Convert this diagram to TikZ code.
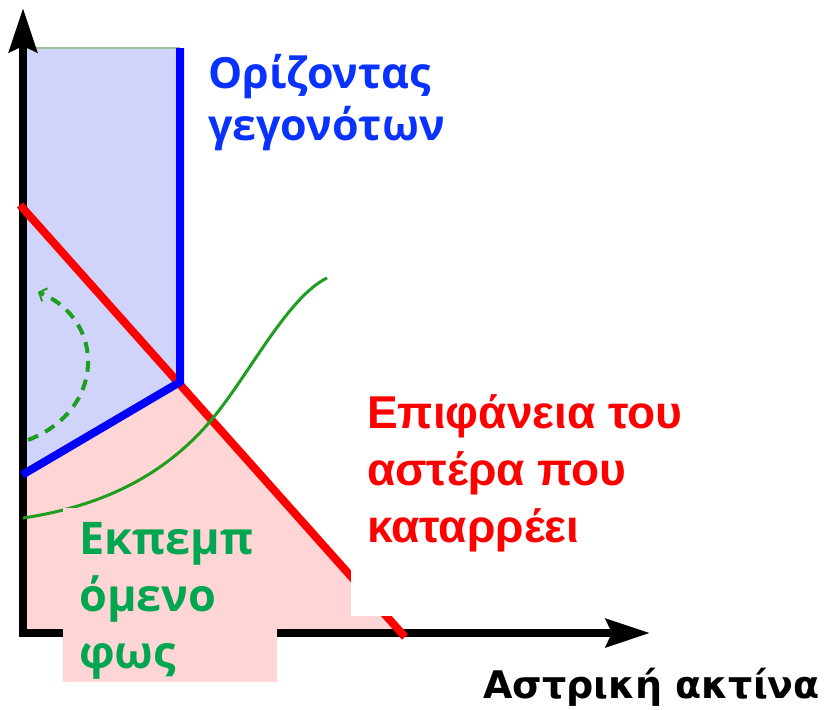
\documentclass[tikz,border=0pt]{standalone}
\usepackage{fontspec}
\setmainfont{Liberation Sans}
\newfontfamily\roundsans{Open Sans}
\newfontfamily\widesans{DejaVu Sans}
\usetikzlibrary{arrows.meta, positioning}

\definecolor{horizonblue}{RGB}{0,0,255}
\definecolor{horizontext}{RGB}{10,50,255}
\definecolor{bluefill}{RGB}{208,212,250}
\definecolor{pinkfill}{RGB}{255,213,213}
\definecolor{raygreen}{RGB}{30,158,30}
\definecolor{lighttext}{RGB}{0,166,80}

\begin{document}
\begin{tikzpicture}[x=1pt, y=-1pt,
    axis/.style={line width=8pt, -{Stealth[length=44pt, width=28pt, inset=6pt]}},
    horizon/.style={horizonblue, line width=8pt, line join=miter},
    surface/.style={red, line width=8pt},
    ray/.style={raygreen, line width=3pt},
    label/.style={anchor=base west, inner sep=0pt, align=left, font=\bfseries}]
    \useasboundingbox (0,0) rectangle (828,710);

    % Key points
    \coordinate (O) at (23,633);
    \coordinate (ytop) at (23,8);
    \coordinate (xend) at (650,633);
    \coordinate (hztop) at (180,48);
    \coordinate (hzcorner) at (180,382);
    \coordinate (hzleft) at (22,475);
    \coordinate (surftop) at (20,205);
    \coordinate (surfend) at (405,637);
    \coordinate (surfbase) at (400,633);

    % Regions inside and outside the horizon
    \fill[bluefill] (O |- hztop) -- (hztop) -- (hzcorner) -- (hzleft) -- cycle;
    \fill[pinkfill] (hzleft) -- (hzcorner) -- (surfbase) -- (O) -- cycle;
    \draw[black!60!green!40, line width=1.5pt] (O |- hztop) -- (hztop);

    % Axes
    \draw[axis] (O) -- (ytop);
    \draw[axis] ([xshift=-4pt]O) -- (xend);

    % Surface of the collapsing star
    \draw[surface] (surftop) -- (surfend);

    % Event horizon
    \draw[horizon] (hztop) -- (hzcorner) -- (hzleft);

    % Light rays
    \draw[ray] (23,518) .. controls (110,505) and (170,470) .. (213,418)
        .. controls (250,373) and (288,297) .. (327,278);
    \draw[ray, line width=4pt, dash pattern=on 11pt off 8pt,
        -{Straight Barb[length=6pt, width=14pt, line width=2pt]}]
        (28,440) .. controls (106,410) and (106,320) .. (38,292);

    % Labels (base = baseline of the last line)
    \node[label, text=horizontext, font=\roundsans\bfseries\fontsize{43}{52}\selectfont]
        (hzlabel) at (208,140) {Ορίζοντας\\γεγονότων};

    \node[fill=white, anchor=north west, inner sep=0pt, minimum width=380pt,
        minimum height=236pt] (surfbox) at (351,380) {};
    \node[label, text=red, font=\bfseries\fontsize{46}{57}\selectfont]
        (surflabel) at (367,542) {Επιφάνεια του\\αστέρα που\\καταρρέει};

    \node[fill=pinkfill, anchor=north west, inner sep=0pt, minimum width=214pt,
        minimum height=174pt] (lightbox) at (63,508) {};
    \node[label, text=lighttext, font=\roundsans\bfseries\fontsize{45}{57}\selectfont]
        (lightlabel) at (79,668) {Εκπεμπ\\όμενο\\φως};

    \node[label, font=\widesans\bfseries\fontsize{38}{45}\selectfont]
        (radius) at (483,698) {Αστρική ακτίνα};
\end{tikzpicture}
\end{document}
